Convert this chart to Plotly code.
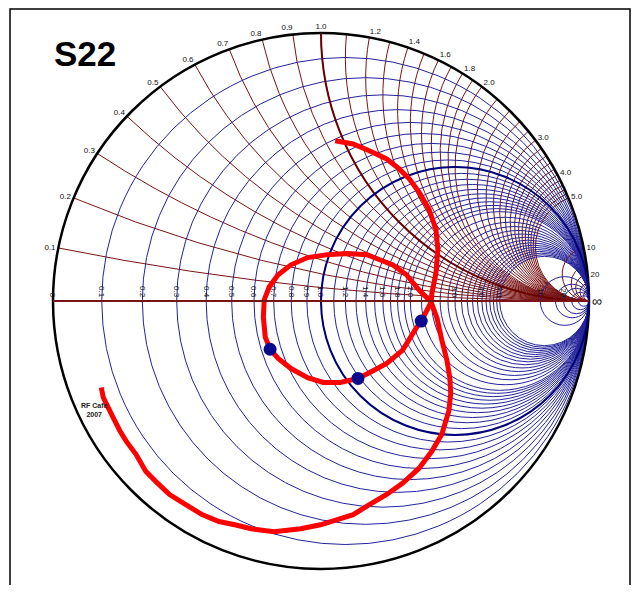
import numpy as np
import plotly.graph_objects as go

s22_re = [0.053, 0.120, 0.182, 0.245, 0.293, 0.330, 0.366, 0.403, 0.429, 0.436,
          0.429, 0.414, 0.411, 0.392, 0.374, 0.355, 0.304, 0.245, 0.182, 0.138,
          0.072, 0.009, -0.050, -0.112, -0.160, -0.190, -0.208, -0.215, -0.212, -0.193,
          -0.160, -0.112, -0.050, 0.024, 0.098, 0.171, 0.219, 0.267, 0.319, 0.366,
          0.411, 0.433, 0.451, 0.470, 0.481, 0.484, 0.477, 0.451, 0.414, 0.366,
          0.304, 0.245, 0.182, 0.120, 0.061, -0.002, -0.076, -0.175, -0.260, -0.322,
          -0.381, -0.444, -0.506, -0.565, -0.617, -0.654, -0.691, -0.727, -0.750, -0.775,
          -0.801, -0.812, -0.820]
s22_im = [0.598, 0.586, 0.560, 0.530, 0.492, 0.455, 0.406, 0.342, 0.267, 0.192,
          0.105, 0.030, -0.004, -0.041, -0.075, -0.101, -0.184, -0.233, -0.267, -0.289,
          -0.304, -0.304, -0.286, -0.252, -0.214, -0.180, -0.135, -0.060, 0.004, 0.053,
          0.098, 0.135, 0.162, 0.173, 0.177, 0.173, 0.154, 0.135, 0.098, 0.041,
          -0.004, -0.064, -0.147, -0.222, -0.289, -0.346, -0.410, -0.496, -0.560, -0.624,
          -0.680, -0.722, -0.759, -0.797, -0.816, -0.835, -0.850, -0.861, -0.850, -0.835,
          -0.823, -0.797, -0.759, -0.722, -0.673, -0.635, -0.571, -0.523, -0.485, -0.436,
          -0.383, -0.361, -0.323]

# marked frequency points (Gamma)
dot_re = [0.374, 0.138, -0.190]
dot_im = [-0.075, -0.289, -0.180]

# chart grid values
real_major = [0, 0.1, 0.2, 0.3, 0.4, 0.5, 0.6, 0.7, 0.8, 0.9, 1.0,
              1.2, 1.4, 1.6, 1.8, 2.0, 3.0, 4.0, 5.0, 10, 20]
imag_major = [0.1, 0.2, 0.3, 0.4, 0.5, 0.6, 0.7, 0.8, 0.9, 1.0,
              1.2, 1.4, 1.6, 1.8, 2.0, 3.0, 4.0, 5.0, 10, 20]
minor_vals = [1.1, 1.3, 1.5, 1.7, 1.9, 2.2, 2.4, 2.6, 2.8, 3.2, 3.4, 3.6, 3.8,
              4.2, 4.4, 4.6, 4.8, 15, 30, 50]
bold_vals = [1.0]


def to_z(re, im):
    g = np.array(re) + 1j * np.array(im)
    z = (1 + g) / (1 - g)
    return z.real, z.imag


zr, zi = to_z(s22_re, s22_im)
dr, di = to_z(dot_re, dot_im)

alias = {"1": "1.0", "2": "2.0", "3": "3.0", "4": "4.0", "5": "5.0", "\u221e": ""}
for v in imag_major:
    s = ("%g" % v)
    lab = alias.get(s, s)
    alias["\u2212" + s] = lab
    alias["-" + s] = lab

BLUE = "#23239a"
RED = "#7a1414"
LABEL_FONT = dict(family="Liberation Sans", size=8, color="#111")

fig = go.Figure()
# minor grid subplot (needs a trace to render)
fig.add_trace(go.Scattersmith(real=[1], imag=[0], mode="lines", subplot="smith",
                              hoverinfo="skip", showlegend=False))
fig.add_trace(go.Scattersmith(real=[1], imag=[0], mode="lines", subplot="smith2",
                              hoverinfo="skip", showlegend=False))
fig.add_trace(go.Scattersmith(real=zr, imag=zi, mode="lines", subplot="smith3",
                              line=dict(color="#ff0000", width=5), showlegend=False))
fig.add_trace(go.Scattersmith(real=dr, imag=di, mode="markers", subplot="smith3",
                              marker=dict(color="#0a0a8c", size=13), showlegend=False))

common_dom = dict(x=[0, 1], y=[0, 1])
fig.update_layout(
    width=623, height=577, autosize=False,
    margin=dict(l=45, r=42, t=25, b=16),
    paper_bgcolor="white",
    showlegend=False,
    smith=dict(
        domain=common_dom, bgcolor="white",
        realaxis=dict(tickvals=minor_vals, showticklabels=False, showline=False,
                      gridcolor=BLUE, gridwidth=1, ticks=""),
        imaginaryaxis=dict(tickvals=minor_vals, showticklabels=False, showline=False,
                           gridcolor=RED, gridwidth=1, ticks=""),
    ),
    smith2=dict(
        domain=common_dom, bgcolor="rgba(0,0,0,0)",
        realaxis=dict(tickvals=real_major, showticklabels=True, showline=True,
                      linecolor=RED, linewidth=2, gridcolor=BLUE, gridwidth=1.2,
                      ticks="", tickangle=90, labelalias=alias, tickfont=LABEL_FONT),
        imaginaryaxis=dict(tickvals=imag_major, showticklabels=True, showline=True,
                           linecolor="black", linewidth=2.5, gridcolor=RED, gridwidth=1.2,
                           ticks="", ticksuffix="", showticksuffix="none",
                           labelalias=alias, tickfont=LABEL_FONT),
    ),
    smith3=dict(
        domain=common_dom, bgcolor="rgba(0,0,0,0)",
        realaxis=dict(tickvals=bold_vals, showticklabels=False, showline=True,
                      linecolor=RED, linewidth=2, gridcolor="#00007a", gridwidth=2, ticks=""),
        imaginaryaxis=dict(tickvals=bold_vals, showticklabels=False, showline=False,
                           gridcolor="#6a0000", gridwidth=2, ticks=""),
    ),
    shapes=[dict(type="rect", xref="paper", yref="paper",
                 x0=-0.0802, x1=1.0765, y0=-0.06, y1=1.0448,
                 line=dict(color="black", width=1.5), fillcolor="rgba(0,0,0,0)")],
    annotations=[
        dict(text="<b>S22</b>", xref="paper", yref="paper", x=-0.002, y=0.961,
             xanchor="left", yanchor="middle", showarrow=False,
             font=dict(family="Liberation Sans", size=35, color="black")),
        dict(text="<b>RF Cafe<br>2007</b>", xref="paper", yref="paper", x=0.078, y=0.297,
             xanchor="center", yanchor="middle", showarrow=False,
             font=dict(family="Liberation Sans", size=7, color="#222")),
    ],
)

fig.write_html("out.html")
